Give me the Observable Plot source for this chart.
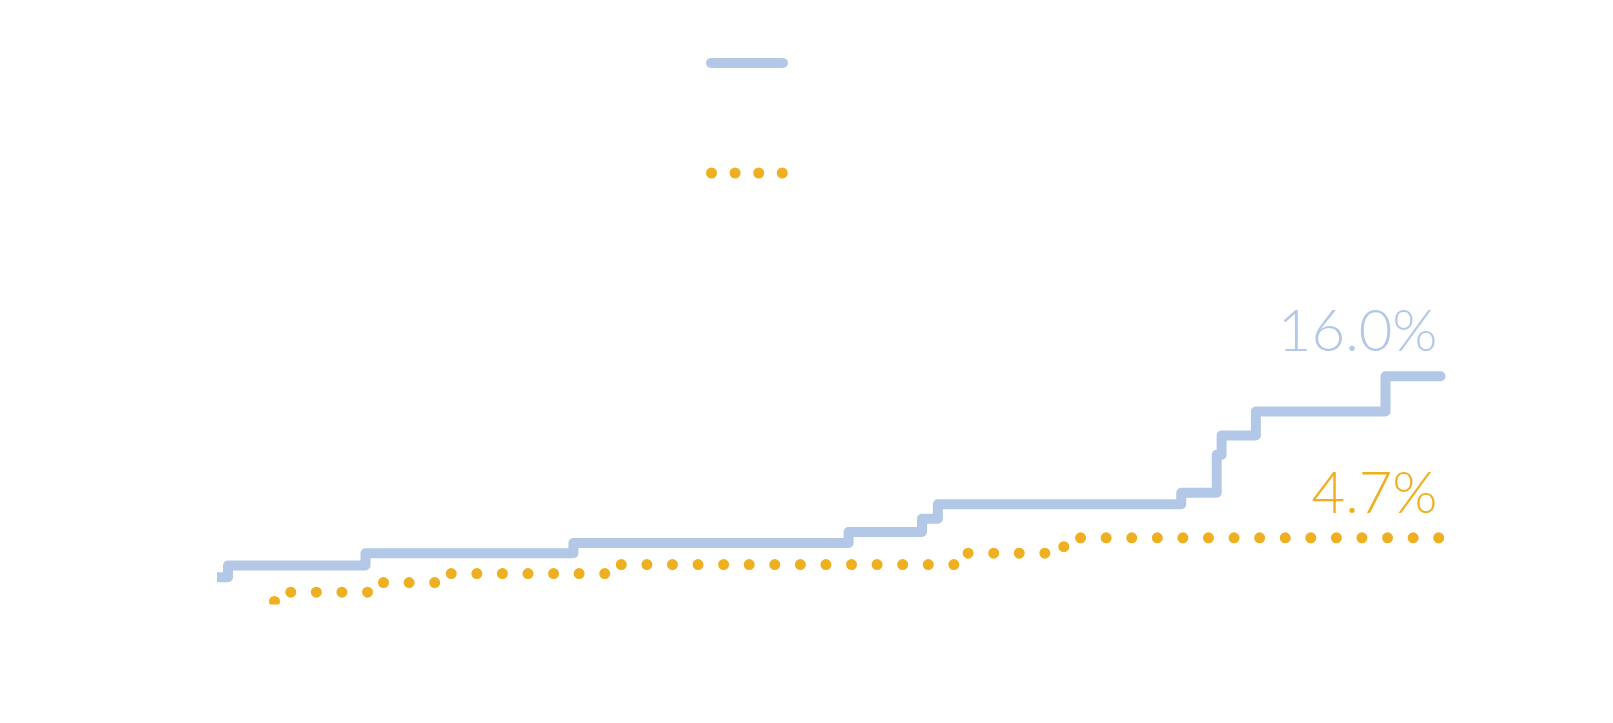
<!DOCTYPE html>
<html>
<head>
<meta charset="utf-8">
<script src="https://cdn.jsdelivr.net/npm/d3@7"></script>
<script src="https://cdn.jsdelivr.net/npm/@observablehq/plot@0.6"></script>
<style>
  html, body { margin: 0; padding: 0; background: #ffffff; }
  #legend { display: block; }
  #chart svg { display: block; }
</style>
</head>
<body>
<svg id="legend" width="1613" height="220"></svg>
<div id="chart"></div>
<script>
// ---- data (time in years, cumulative incidence in %) ----
const seriesColors = ["#b3c8e6", "#eeb020"];

const blueTime  = [0, 0.086, 1.21, 2.91, 5.16, 5.76, 5.89, 7.88, 8.17, 8.21, 8.49, 9.55, 10];
const blueValue = [1.94, 2.76, 3.62, 4.34, 5.10, 6.03, 7.05, 7.85, 10.5, 11.85, 13.53, 16.0, 16.0];

const orangeTime  = [0.466, 0.52, 1.27, 1.86, 3.27, 6.03, 6.92, 10];
const orangeValue = [0.25, 0.90, 1.57, 2.20, 2.83, 3.62, 4.70, 4.70];

const endLabels = ["16.0%", "4.7%"];

// ---- build tables ----
const blue = blueTime.map((t, i) => ({t, v: blueValue[i]}));
const orange = orangeTime.map((t, i) => ({t, v: orangeValue[i]}));
const ends = [
  {t: blueTime[blueTime.length - 1], v: blueValue[blueValue.length - 1], label: endLabels[0], color: seriesColors[0]},
  {t: orangeTime[orangeTime.length - 1], v: orangeValue[orangeValue.length - 1], label: endLabels[1], color: seriesColors[1]}
];

// ---- legend (swatches above the chart) ----
const lg = d3.select("#legend");
lg.append("line")
  .attr("x1", 711).attr("x2", 783).attr("y1", 63).attr("y2", 63)
  .attr("stroke", seriesColors[0]).attr("stroke-width", 10).attr("stroke-linecap", "round");
lg.append("line")
  .attr("x1", 711.5).attr("x2", 783).attr("y1", 173).attr("y2", 173)
  .attr("stroke", seriesColors[1]).attr("stroke-width", 11).attr("stroke-linecap", "round")
  .attr("stroke-dasharray", "0 23.6");

// ---- chart ----
const chart = Plot.plot({
  width: 1613,
  height: 503,
  marginLeft: 217,
  marginRight: 148.5,
  marginTop: 98.5,
  marginBottom: 118.5,
  x: {domain: [0, 10.2], axis: null},
  y: {domain: [0, 20], axis: null},
  style: {background: "#ffffff", overflow: "visible"},
  marks: [
    Plot.line(blue, {
      x: "t", y: "v", curve: "step-after", clip: true,
      stroke: seriesColors[0], strokeWidth: 10,
      strokeLinecap: "round", strokeLinejoin: "round"
    }),
    Plot.line(orange, {
      x: "t", y: "v", curve: "step-after", clip: true,
      stroke: seriesColors[1], strokeWidth: 11,
      strokeLinecap: "round", strokeLinejoin: "round",
      strokeDasharray: "0 25.58"
    }),
    Plot.text(ends, {
      x: "t", y: "v", text: "label", fill: "color",
      textAnchor: "end", lineAnchor: "bottom", dx: -3, dy: -25,
      fontSize: 58, fontFamily: "Lato, sans-serif", fontWeight: 300
    })
  ]
});
document.getElementById("chart").appendChild(chart);
</script>
</body>
</html>
